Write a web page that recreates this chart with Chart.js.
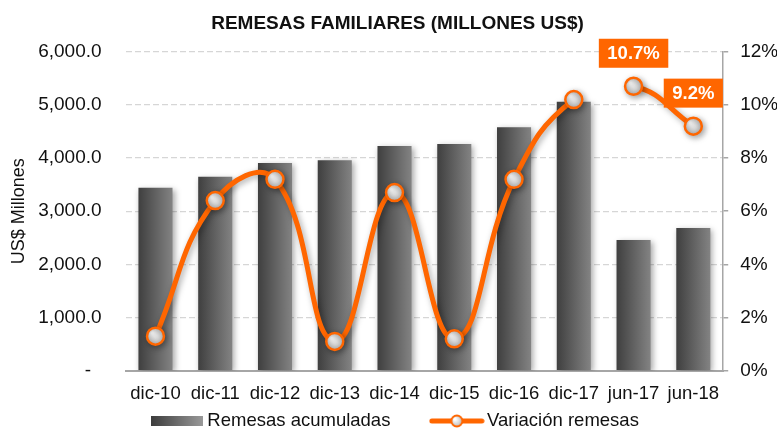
<!DOCTYPE html>
<html>
<head>
<meta charset="utf-8">
<script src="https://cdn.jsdelivr.net/npm/chart.js@4.4.1/dist/chart.umd.min.js"></script>
<style>
  html, body { margin: 0; padding: 0; background: #fff; }
</style>
</head>
<body>
<canvas id="remesas" width="777" height="432"></canvas>
<script>
// datos
const periodos = ['dic-10', 'dic-11', 'dic-12', 'dic-13', 'dic-14', 'dic-15', 'dic-16', 'dic-17', 'jun-17', 'jun-18'];
const remesasAcumuladas = [3440, 3650, 3905, 3960, 4225, 4265, 4580, 5060, 2460, 2685];
const variacionRemesas = [1.3, 6.4, 7.2, 1.1, 6.7, 1.2, 7.2, 10.2, 10.7, 9.2];
const ticksMillones = [0, 1000, 2000, 3000, 4000, 5000, 6000];
const ticksPorcentaje = [0, 2, 4, 6, 8, 10, 12];
const corteDespues = [7];      // sin linea entre dic-17 y jun-17
const conEtiqueta = [8, 9];    // puntos con recuadro de valor

const NARANJA = '#ff6600';
const TEXTO = '#111111';
const FUENTE = "'Liberation Sans', Arial, sans-serif";

// iconos de la leyenda
function iconoBarra() {
  const c = document.createElement('canvas');
  c.width = 52; c.height = 10;
  const g = c.getContext('2d');
  const grd = g.createLinearGradient(0, 0, 52, 0);
  grd.addColorStop(0, '#3d3d3d');
  grd.addColorStop(1, '#9a9a9a');
  g.fillStyle = grd;
  g.fillRect(0, 0, 52, 10);
  return c;
}
function iconoLinea() {
  const c = document.createElement('canvas');
  c.width = 56; c.height = 16;
  const g = c.getContext('2d');
  g.strokeStyle = NARANJA;
  g.lineWidth = 5;
  g.lineCap = 'round';
  g.beginPath(); g.moveTo(3, 8); g.lineTo(53, 8); g.stroke();
  const grd = g.createRadialGradient(26, 6, 1, 28, 8, 6);
  grd.addColorStop(0, '#ffffff');
  grd.addColorStop(1, '#b8b8b8');
  g.fillStyle = grd;
  g.beginPath(); g.arc(28, 8, 5.5, 0, Math.PI * 2); g.fill();
  g.lineWidth = 2; g.stroke();
  return c;
}
const legendIcons = [iconoBarra(), iconoLinea()];

// degradado horizontal de cada barra
function barGradient(c) {
  const chart = c.chart;
  if (!chart.chartArea || c.type !== 'data') return '#5a5a5a';
  const xs = chart.scales.x;
  const cx = xs.getPixelForValue(c.dataIndex);
  const half = (xs.width / periodos.length) * 0.57 / 2;
  const grd = chart.ctx.createLinearGradient(cx - half, 0, cx + half, 0);
  grd.addColorStop(0, '#3f3f3f');
  grd.addColorStop(1, '#838383');
  return grd;
}

function markerFill(c) {
  const chart = c.chart;
  if (!chart.chartArea || c.type !== 'data') return '#dddddd';
  const px = chart.scales.x.getPixelForValue(c.dataIndex);
  const py = chart.scales.y1.getPixelForValue(variacionRemesas[c.dataIndex]);
  const grd = chart.ctx.createRadialGradient(px - 3, py - 3, 1, px, py, 9);
  grd.addColorStop(0, '#ffffff');
  grd.addColorStop(1, '#b5b5b5');
  return grd;
}

const sombra = {
  id: 'sombra',
  beforeDatasetDraw(chart) {
    const ctx = chart.ctx;
    ctx.save();
    ctx.shadowColor = 'rgba(0,0,0,0.35)';
    ctx.shadowBlur = 6;
    ctx.shadowOffsetX = 2;
    ctx.shadowOffsetY = 2;
  },
  afterDatasetDraw(chart) {
    chart.ctx.restore();
  }
};

const etiquetasValor = {
  id: 'etiquetasValor',
  afterDatasetsDraw(chart) {
    const ctx = chart.ctx;
    const meta = chart.getDatasetMeta(1);
    ctx.save();
    ctx.font = 'bold 18.5px ' + FUENTE;
    ctx.textAlign = 'center';
    ctx.textBaseline = 'middle';
    conEtiqueta.forEach(i => {
      const pt = meta.data[i];
      const txt = variacionRemesas[i].toFixed(1) + '%';
      const w = ctx.measureText(txt).width + 17;
      const h = 29;
      const cy = pt.y - 33;
      ctx.fillStyle = NARANJA;
      ctx.fillRect(pt.x - w / 2, cy - h / 2, w, h);
      ctx.fillStyle = '#ffffff';
      ctx.fillText(txt, pt.x, cy + 1);
    });
    ctx.restore();
  }
};

const ctx = document.getElementById('remesas').getContext('2d');
const remesasChart = new Chart(ctx, {
  data: {
    labels: periodos,
    datasets: [{
      type: 'bar',
      label: 'Remesas acumuladas',
      data: remesasAcumuladas,
      yAxisID: 'y',
      backgroundColor: barGradient,
      borderWidth: 0,
      categoryPercentage: 0.57,
      barPercentage: 1.0,
      order: 2
    }, {
      type: 'line',
      label: 'Variación remesas',
      data: variacionRemesas,
      yAxisID: 'y1',
      borderColor: NARANJA,
      borderWidth: 5,
      tension: 0.45,
      fill: false,
      pointRadius: 8.5,
      pointBorderWidth: 2.5,
      pointBorderColor: NARANJA,
      pointBackgroundColor: markerFill,
      segment: {
        borderColor: c => corteDespues.includes(c.p0DataIndex) ? 'rgba(0,0,0,0)' : NARANJA
      },
      order: 1
    }]
  },
  options: {
    responsive: false,
    animation: false,
    layout: {
      padding: { left: 0, right: -18, top: 0, bottom: -8.2 }
    },
    plugins: {
      title: {
        display: true,
        text: 'REMESAS FAMILIARES (MILLONES US$)',
        color: TEXTO,
        font: { family: FUENTE, size: 19, weight: 'bold' },
        padding: { top: 12.1, bottom: 16.8 }
      },
      legend: {
        position: 'bottom',
        // titulo vacio con padding negativo: sube los items para que el
        // espaciado horizontal (padding) no empuje la leyenda hacia abajo
        title: { display: true, text: '', font: { size: 1 }, padding: { top: -20.8, bottom: -20.8 } },
        labels: {
          usePointStyle: true,
          pointStyleWidth: 42,
          padding: 45.4,
          color: TEXTO,
          font: { family: FUENTE, size: 18.5 },
          generateLabels: chart => chart.data.datasets.map((ds, i) => ({
            text: ds.label,
            fontColor: TEXTO,
            pointStyle: legendIcons[i],
            fillStyle: 'rgba(0,0,0,0)',
            strokeStyle: 'rgba(0,0,0,0)',
            lineWidth: 0,
            hidden: false,
            datasetIndex: i
          }))
        }
      },
      tooltip: { enabled: false }
    },
    scales: {
      x: {
        grid: { display: false, drawTicks: false },
        border: { display: true, color: '#a6a6a6', width: 2 },
        ticks: {
          color: TEXTO,
          padding: 12.2,
          maxRotation: 0,
          autoSkip: false,
          font: { family: FUENTE, size: 18.5 }
        },
        afterFit: s => { s.height = 36; s.paddingLeft = 0; s.paddingRight = 0; }
      },
      y: {
        position: 'left',
        min: 0,
        max: 6000,
        afterBuildTicks: s => { s.ticks = ticksMillones.map(v => ({ value: v })); },
        grid: { color: '#d6d6d6', lineWidth: 1.3, drawTicks: false },
        border: { display: false, dash: [6, 3] },
        ticks: {
          color: TEXTO,
          padding: 24,
          font: { family: FUENTE, size: 19 },
          callback: v => v === 0 ? '-  ' : v.toLocaleString('en-US', { minimumFractionDigits: 1 })
        },
        title: {
          display: true,
          text: 'US$ Millones',
          color: TEXTO,
          font: { family: FUENTE, size: 18 },
          padding: { top: 8.2, bottom: 0 }
        },
        afterFit: s => { s.width = 125.6; s.paddingTop = 0; s.paddingBottom = 0; }
      },
      y1: {
        position: 'right',
        min: 0,
        max: 12,
        afterBuildTicks: s => { s.ticks = ticksPorcentaje.map(v => ({ value: v })); },
        grid: { drawOnChartArea: false, drawTicks: true, tickLength: 5, tickColor: '#a6a6a6', lineWidth: 1.5 },
        border: { display: true, color: '#a6a6a6', width: 1.5 },
        ticks: {
          color: TEXTO,
          padding: 12,
          font: { family: FUENTE, size: 19 },
          callback: v => v + '%'
        },
        afterFit: s => { s.width = 71.8; s.paddingTop = 0; s.paddingBottom = 0; }
      }
    }
  },
  plugins: [sombra, etiquetasValor]
});
</script>
</body>
</html>
